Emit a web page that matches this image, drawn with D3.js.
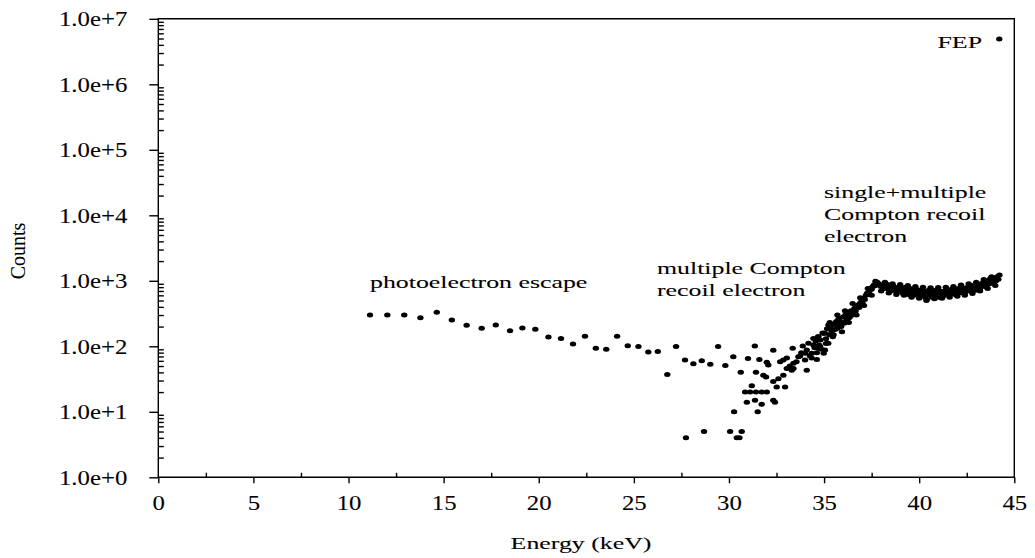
<!DOCTYPE html>
<html>
<head>
<meta charset="utf-8">
<script src="https://cdn.jsdelivr.net/npm/d3@7"></script>
<style>
  body { margin: 0; background: #fff; }
  svg text { font-family: "Liberation Serif", "Times New Roman", serif; fill: #000; stroke: #000; stroke-width: 0.08px; }
</style>
</head>
<body>
<svg id="chart" width="1035" height="558"></svg>
<script>
// Photoelectron escape tail (keV, counts)
const escapeEnergy = [11.13, 12.04, 12.93, 13.78, 14.64, 15.43, 16.21, 17.00, 17.74, 18.49, 19.14, 19.82,
  20.51, 21.17, 21.80, 22.43, 23.00, 23.55, 24.12, 24.68, 25.24, 25.76, 26.26, 26.76];
const escapeCounts = [301, 301, 301, 273, 330, 252, 209, 188, 211, 173, 190, 182,
  139, 131, 108, 142, 93, 90, 142, 102, 99, 82, 83, 37];

// Multiple Compton recoil region (keV, counts)
const comptonEnergy = [27.22, 27.69, 28.13, 28.57, 29.02, 29.43, 29.81, 30.23, 30.62, 31.00, 31.36, 31.60,
  31.42, 31.99, 32.07, 32.33, 31.81, 31.95, 31.20, 32.33, 32.60, 32.86, 32.69, 33.04, 33.35, 33.30, 33.39,
  33.74, 34.00, 33.88, 34.09, 34.35, 34.62, 30.85, 31.11, 31.42, 31.72, 31.99, 32.51, 32.95, 30.94, 31.37,
  31.72, 32.33, 32.42, 30.27, 31.51, 28.69, 30.06, 30.67, 27.74, 30.41, 30.55,
  32.86, 33.04, 33.39, 33.65, 34.00, 34.09, 34.35, 34.44, 34.70, 34.18, 34.44, 34.70, 34.96, 35.23, 35.75,
  34.79, 35.05, 33.20, 33.55, 33.80, 34.25];
const comptonCounts = [99, 62, 54, 60, 53, 99, 51, 69, 40, 65, 101, 63,
  40, 57, 52, 87, 36, 34, 25, 29, 32, 36, 58, 66, 93, 43, 46,
  71, 78, 101, 43, 66, 63, 20, 20, 20, 20, 20, 24, 24, 14, 15,
  13, 15, 14, 10, 10, 5, 5, 5, 4, 4, 4,
  62, 46, 55, 69, 62, 88, 78, 105, 93, 111, 132, 140, 158, 211, 224,
  99, 88, 50, 58, 80, 72];

// Single + multiple Compton rise and plateau (keV, counts)
const plateauEnergy = [34.50, 34.56, 34.62, 34.68, 34.74, 34.80, 34.86, 34.92, 34.98, 35.04, 35.10, 35.16,
  35.22, 35.28, 35.34, 35.40, 35.46, 35.52, 35.58, 35.64, 35.70, 35.76, 35.82, 35.88, 35.94, 36.00, 36.06,
  36.12, 36.18, 36.24, 36.30, 36.36, 36.42, 36.48, 36.54, 36.60, 36.66, 36.72, 36.78, 36.84, 36.90, 36.96,
  37.02, 37.08, 37.14, 37.20, 37.26, 37.32, 37.38, 37.44, 37.50, 37.56, 37.62, 37.68, 37.74,
  37.80, 37.86, 37.92, 37.98, 38.04, 38.10, 38.16, 38.22, 38.28, 38.34, 38.40, 38.46, 38.52, 38.58, 38.64,
  38.70, 38.76, 38.82, 38.88, 38.94, 39.00, 39.06, 39.12, 39.18, 39.24, 39.30, 39.36, 39.42, 39.48, 39.54,
  39.60, 39.66, 39.72, 39.78, 39.84, 39.90, 39.96, 40.02, 40.08, 40.14, 40.20, 40.26, 40.32, 40.38, 40.44,
  40.50, 40.56, 40.62, 40.68, 40.74, 40.80, 40.86, 40.92, 40.98, 41.04, 41.10, 41.16, 41.22, 41.28, 41.34,
  41.40, 41.46, 41.52, 41.58, 41.64, 41.70, 41.76, 41.82, 41.88, 41.94, 42.00, 42.06, 42.12, 42.18, 42.24,
  42.30, 42.36, 42.42, 42.48, 42.54, 42.60, 42.66, 42.72, 42.78, 42.84, 42.90, 42.96, 43.02, 43.08, 43.14,
  43.20, 43.26, 43.32, 43.38, 43.44, 43.50, 43.56, 43.62, 43.68, 43.74, 43.80, 43.86, 43.92, 43.98, 44.04,
  44.10, 44.16, 44.22,
  35.10, 35.30, 35.50, 35.70, 35.90, 36.10, 36.30, 36.50, 36.70, 36.90, 37.10, 37.30, 37.50, 37.70,
  38.00, 38.20, 38.40, 38.60, 38.80, 39.00, 39.20, 39.40, 39.60, 39.80, 40.00, 40.20, 40.40, 40.60,
  40.80, 41.00, 41.20, 41.40, 41.60, 41.80, 42.00, 42.20, 42.40, 42.60, 42.80, 43.00, 43.20, 43.40,
  43.60, 43.80, 44.00];
const plateauCounts = [95, 120, 80, 140, 105, 125, 90, 160, 78, 158, 130, 185,
  111, 150, 199, 170, 140, 215, 180, 240, 188, 260, 210, 238, 167, 280, 225,
  300, 250, 320, 270, 283, 350, 300, 319, 380, 345, 410, 427, 390, 460, 480,
  450, 541, 520, 600, 645, 620, 700, 768, 740, 820, 863, 840, 930,
  950, 900, 880, 820, 860, 790, 840, 760, 810, 880, 740, 800, 700, 770, 830,
  720, 790, 680, 750, 800, 700, 770, 650, 730, 790, 690, 740, 620, 700, 760,
  660, 720, 600, 690, 750, 640, 700, 580, 680, 730, 630, 690, 560, 500, 660,
  720, 610, 680, 560, 650, 710, 600, 670, 560, 640, 700, 610, 680, 590, 650,
  720, 620, 690, 600, 670, 740, 640, 700, 620, 730, 680, 760, 650, 720, 790,
  690, 750, 670, 780, 720, 820, 700, 770, 850, 740, 810, 720, 880, 790, 850,
  760, 900, 820, 970, 850, 920, 800, 1000, 900, 1080, 950, 1020, 920, 1100, 1000,
  1150, 1060, 1230,
  110, 230, 150, 300, 200, 350, 230, 450, 300, 550, 420, 760, 600, 980,
  700, 950, 650, 900, 620, 880, 600, 850, 560, 820, 540, 800, 520, 780,
  530, 790, 540, 800, 560, 820, 580, 860, 600, 900, 640, 950, 700, 1050,
  760, 1150, 850];

// Full-energy peak
const fepEnergy = [44.21];
const fepCounts = [4.9e6];

const xTicks = [0, 5, 10, 15, 20, 25, 30, 35, 40, 45];
const xMinorTicks = [2.5, 7.5, 12.5, 17.5, 22.5, 27.5, 32.5, 37.5, 42.5];
const yTicks = [1e0, 1e1, 1e2, 1e3, 1e4, 1e5, 1e6, 1e7];

const svg = d3.select("#chart");
const plotLeft = 158.3, plotRight = 1014.3, plotTop = 18.8, plotBottom = 477.3;

const x = d3.scaleLinear().domain([0, 45]).range([plotLeft, plotRight]);
const y = d3.scaleLog().domain([1, 1e7]).range([plotBottom, plotTop]);

// minor y ticks (2..9 per decade), pointing inward
const yMinor = [];
for (let d = 0; d < 7; d++) for (let m = 2; m <= 9; m++) yMinor.push(m * Math.pow(10, d));

const axisStyle = g => {
  g.selectAll("path, line").attr("stroke", "#000").attr("stroke-width", 1.4);
  g.select(".domain").remove();
};

// frame
svg.append("path")
  .attr("d", `M${plotLeft},${plotBottom}V${plotTop}H${plotRight}V${plotBottom}Z`)
  .attr("fill", "none").attr("stroke", "#000").attr("stroke-width", 1.4);

// Y axis: major ticks outward with labels
const yAxis = svg.append("g").attr("transform", `translate(${plotLeft},0)`)
  .call(d3.axisLeft(y).tickValues(yTicks).tickSize(9)
    .tickFormat(d => "1.0e+" + Math.round(Math.log10(d))))
  .call(axisStyle);
yAxis.attr("font-family", null).attr("font-size", null);
yAxis.selectAll("text")
  .attr("x", null).attr("dy", "0.34em")
  .attr("transform", "translate(-31,0) scale(1.24,1)")
  .style("font-size", "20px")
  .attr("text-anchor", "end");

svg.append("g").attr("transform", `translate(${plotLeft},0)`)
  .call(d3.axisRight(y).tickValues(yMinor).tickSize(5.5).tickFormat(""))
  .call(axisStyle);

// X axis: major ticks outward, minor ticks inward
const xAxis = svg.append("g").attr("transform", `translate(0,${plotBottom})`)
  .call(d3.axisBottom(x).tickValues(xTicks).tickSize(6).tickFormat(d3.format("d")))
  .call(axisStyle);
xAxis.attr("font-family", null).attr("font-size", null);
xAxis.selectAll("text")
  .attr("y", null).attr("dy", null)
  .attr("transform", "translate(0,32.5) scale(1.24,1)")
  .style("font-size", "20px")
  .attr("text-anchor", "middle");

svg.append("g").attr("transform", `translate(0,${plotBottom})`)
  .call(d3.axisTop(x).tickValues(xMinorTicks).tickSize(4.5).tickFormat(""))
  .call(axisStyle);

// axis titles
svg.append("text")
  .attr("transform", `translate(581,549) scale(1.52,1)`)
  .attr("text-anchor", "middle").style("font-size", "17px")
  .text("Energy (keV)");
svg.append("text")
  .attr("transform", "translate(25,251) rotate(-90)")
  .attr("text-anchor", "middle").style("font-size", "20px")
  .text("Counts");

// data points
const dots = svg.append("g");
const drawSeries = (ex, cy) => {
  dots.append("g").selectAll("ellipse").data(d3.zip(ex, cy)).join("ellipse")
    .attr("cx", d => x(d[0])).attr("cy", d => y(d[1]))
    .attr("rx", 3.2).attr("ry", 2.5).attr("fill", "#000");
};
drawSeries(escapeEnergy, escapeCounts);
drawSeries(comptonEnergy, comptonCounts);
drawSeries(plateauEnergy, plateauCounts);
drawSeries(fepEnergy, fepCounts);

// annotations
const note = (lines, px, py, anchor) => {
  lines.forEach((t, i) => {
    svg.append("text")
      .attr("transform", `translate(${px},${py + i * 22}) scale(1.52,1)`)
      .attr("text-anchor", anchor || "start")
      .style("font-size", "17px")
      .text(t);
  });
};
note(["photoelectron escape"], 370, 288);
note(["multiple Compton", "recoil electron"], 657, 274);
note(["single+multiple", "Compton recoil", "electron"], 824, 198);
note(["FEP"], 982, 47.5, "end");
</script>
</body>
</html>
